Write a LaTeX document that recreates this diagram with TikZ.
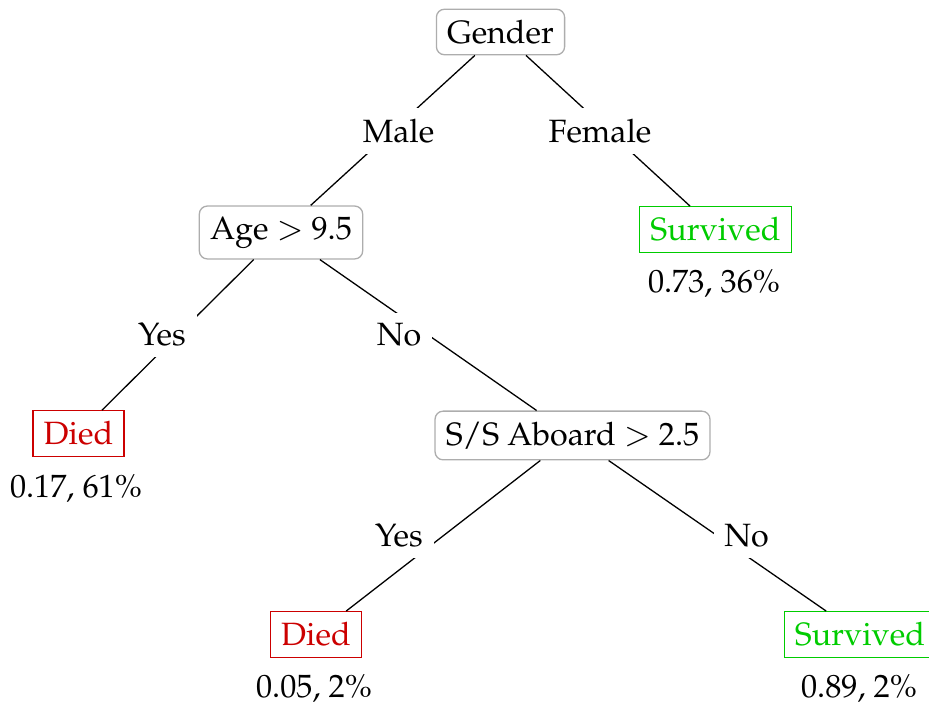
\documentclass[tikz,border=0pt]{standalone}
\usepackage[T1]{fontenc}
\usepackage{mathpazo}
\definecolor{diedred}{RGB}{204,0,0}
\definecolor{survgreen}{RGB}{0,204,0}
\tikzset{
  split/.style={draw=black!32, fill=white, rounded corners=2.5pt, inner sep=3.33pt},
  died/.style={draw=diedred, text=diedred, fill=white, inner sep=3.33pt},
  survived/.style={draw=survgreen, text=survgreen, fill=white, inner sep=3.33pt},
  branch/.style={fill=white, inner sep=3.33pt},
  score/.style={inner sep=0pt},
  link/.style={line width=0.4pt, black}
}
\begin{document}
\begin{tikzpicture}[x=0.31pt, y=-0.31pt]
\useasboundingbox (0,0) rectangle (929,704);

% split nodes
\node[split] (gender) at (500.5,32) {Gender};
\node[split] (age)    at (281,232.5) {Age $>$ 9.5};
\node[split] (sibsp)  at (572.5,435.5) {S/S Aboard $>$ 2.5};

% leaves
\node[survived] (surv1) at (715.5,229.5) {Survived};
\node[died]     (died1) at (78.5,433.5) {Died};
\node[died]     (died2) at (316,634.5) {Died};
\node[survived] (surv2) at (860,634.5) {Survived};

% leaf scores
\node[score] (s1) at (714,284) {0.73, 36\%};
\node[score] (s2) at (76,489) {0.17, 61\%};
\node[score] (s3) at (314,689) {0.05, 2\%};
\node[score] (s4) at (859,689) {0.89, 2\%};

% branches, centre to centre
\draw[link] (gender) -- (age);
\draw[link] (gender) -- (surv1);
\draw[link] (age) -- (died1);
\draw[link] (age) -- (sibsp);
\draw[link] (sibsp) -- (died2);
\draw[link] (sibsp) -- (surv2);

% branch labels, blanking the line beneath them
\node[branch] (male)   at (398.5,131) {Male};
\node[branch] (female) at (600,131) {Female};
\node[branch] (ageyes) at (162,335) {Yes};
\node[branch] (ageno)  at (399,335) {No};
\node[branch] (sibyes) at (399,536) {Yes};
\node[branch] (sibno)  at (746.5,536) {No};
\end{tikzpicture}
\end{document}
